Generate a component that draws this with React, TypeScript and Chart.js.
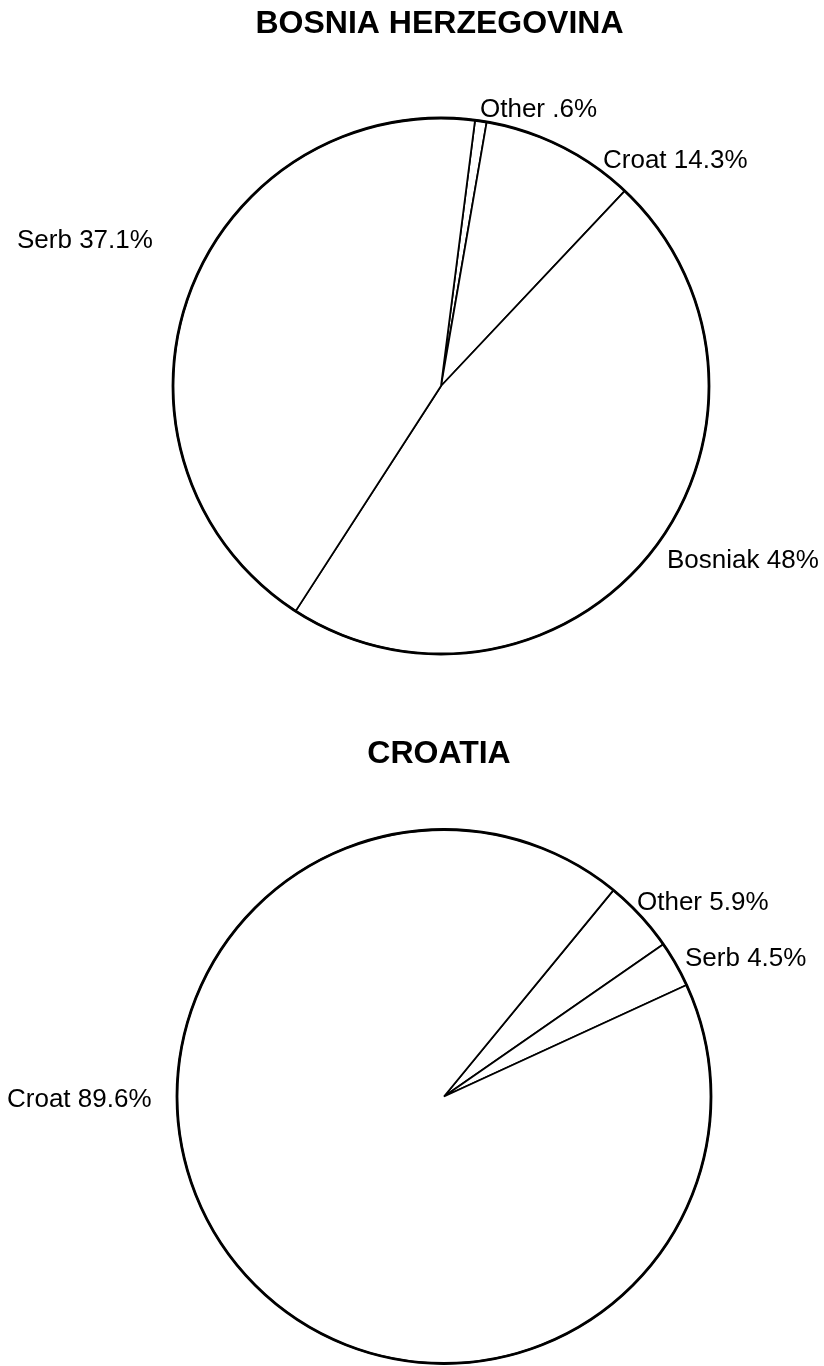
import React, { useEffect, useRef } from "react";
import { Chart, registerables } from "chart.js";

Chart.register(...registerables);

// ---- Data ----
const bosniaTitle = "BOSNIA HERZEGOVINA";
const bosniaCategories = ["Other", "Croat", "Bosniak", "Serb"];
// slice sizes as drawn in the reference
const bosniaValues = [0.7, 9.3, 47.1, 42.9];
// label texts as printed in the reference
const bosniaLabels = ["Other .6%", "Croat 14.3%", "Bosniak 48%", "Serb 37.1%"];

const croatiaTitle = "CROATIA";
const croatiaCategories = ["Other", "Serb", "Croat"];
const croatiaValues = [4.4, 2.8, 92.8];
const croatiaLabels = ["Other 5.9%", "Serb 4.5%", "Croat 89.6%"];

// ---- Layout / style ----
const FONT = "'Liberation Sans', Arial, Helvetica, sans-serif";

type PieCfg = {
  title: string;
  categories: string[];
  values: number[];
  labels: string[];
  top: number;
  height: number;
  padding: { left: number; right: number; top: number; bottom: number };
  radius: number;
  rotation: number;
  titleX: number;
  titleBaseline: number;
  // label anchor offsets (left edge, baseline) relative to the pie centre
  labelOffsets: [number, number][];
};

const bosniaCfg: PieCfg = {
  title: bosniaTitle,
  categories: bosniaCategories,
  values: bosniaValues,
  labels: bosniaLabels,
  top: 0,
  height: 700,
  padding: { left: 58, right: 0, top: 72, bottom: 0 },
  radius: 268,
  rotation: 7.3,
  titleX: 439.5,
  titleBaseline: 33,
  labelOffsets: [
    [39, -269],
    [162, -218],
    [226, 182],
    [-424, -138],
  ],
};

const croatiaCfg: PieCfg = {
  title: croatiaTitle,
  categories: croatiaCategories,
  values: croatiaValues,
  labels: croatiaLabels,
  top: 700,
  height: 666,
  padding: { left: 64, right: 0, top: 127, bottom: 0 },
  radius: 267,
  rotation: 39.4,
  titleX: 439,
  titleBaseline: 63,
  labelOffsets: [
    [193, -186.5],
    [241, -130.5],
    [-437, 10.5],
  ],
};

const pieTextPlugin = {
  id: "pieText",
  afterDatasetsDraw(chart: any) {
    // slightly heavier outer outline, as in the reference
    const meta = chart.getDatasetMeta(0);
    const first = meta.data[0];
    if (!first) return;
    const ctx = chart.ctx;
    ctx.save();
    ctx.strokeStyle = "#000000";
    ctx.lineWidth = 2.8;
    ctx.beginPath();
    ctx.arc(first.x, first.y, first.outerRadius, 0, Math.PI * 2);
    ctx.stroke();
    ctx.restore();
  },
  afterDraw(chart: any, _args: any, opts: any) {
    const ctx = chart.ctx;
    const meta = chart.getDatasetMeta(0);
    const first = meta.data[0];
    if (!first) return;
    const cx = first.x;
    const cy = first.y;
    ctx.save();
    ctx.fillStyle = "#000000";
    ctx.textBaseline = "alphabetic";
    // title
    ctx.font = `bold 32px ${FONT}`;
    ctx.textAlign = "center";
    ctx.fillText(opts.title, opts.titleX, opts.titleBaseline);
    // slice labels
    ctx.font = `26px ${FONT}`;
    ctx.textAlign = "left";
    const labels: string[] = opts.labels;
    labels.forEach((t, i) => {
      const off = opts.labelOffsets[i];
      ctx.fillText(t, cx + off[0], cy + off[1]);
    });
    ctx.restore();
  },
};

function PieChart({ cfg }: { cfg: PieCfg }) {
  const ref = useRef<HTMLCanvasElement>(null);
  useEffect(() => {
    if (!ref.current) return;
    const chart = new Chart(ref.current, {
      type: "pie",
      data: {
        labels: cfg.categories,
        datasets: [
          {
            data: cfg.values,
            backgroundColor: "#ffffff",
            borderColor: "#000000",
            borderWidth: 1.8,
            rotation: cfg.rotation,
            radius: cfg.radius,
          } as any,
        ],
      },
      options: {
        responsive: false,
        animation: false,
        events: [],
        layout: { padding: cfg.padding },
        plugins: {
          legend: { display: false },
          tooltip: { enabled: false },
          title: { display: false },
          pieText: {
            title: cfg.title,
            titleX: cfg.titleX,
            titleBaseline: cfg.titleBaseline,
            labels: cfg.labels,
            labelOffsets: cfg.labelOffsets,
          },
        } as any,
      },
      plugins: [pieTextPlugin],
    });
    return () => chart.destroy();
  }, [cfg]);
  return (
    <canvas
      ref={ref}
      width={824}
      height={cfg.height}
      style={{
        position: "absolute",
        left: 0,
        top: cfg.top,
        width: 824,
        height: cfg.height,
        display: "block",
      }}
    />
  );
}

export default function App() {
  return (
    <div
      style={{
        position: "absolute",
        left: 0,
        top: 0,
        width: 824,
        height: 1366,
        overflow: "hidden",
        background: "#ffffff",
      }}
    >
      <PieChart cfg={bosniaCfg} />
      <PieChart cfg={croatiaCfg} />
    </div>
  );
}
